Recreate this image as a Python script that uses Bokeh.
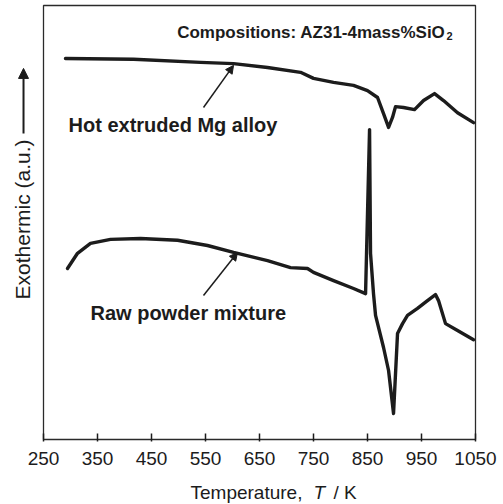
import numpy as np
from bokeh.plotting import figure
from bokeh.layouts import column
from bokeh.models import Range1d, Label, Arrow, NormalHead, FixedTicker
from bokeh.embed import file_html
from bokeh.resources import INLINE

# ---- data ----
temp_ticks = [250, 350, 450, 550, 650, 750, 850, 950, 1050]
signal_limits = [0, 100]

hot_T = [290.7, 416.7, 540.8, 601.9, 664.8, 726.0, 750.0, 787.1, 824.1, 850.0,
         868.6, 879.7, 889.0, 896.3, 901.9, 916.7, 937.1, 953.8, 974.1, 990.8,
         1016.7, 1046.4]
hot_signal = [87.8, 87.6, 86.9, 86.6, 85.7, 84.6, 83.2, 82.3, 81.6, 80.4,
              78.8, 75.1, 71.9, 74.2, 76.7, 76.5, 76.0, 78.1, 79.7, 78.1,
              75.3, 73.0]

raw_T = [294.4, 313.0, 337.0, 374.1, 429.6, 498.2, 553.7, 601.9, 664.8, 707.4,
         738.9, 750.0, 787.1, 824.1, 846.4, 853.8, 855.6, 861.1, 864.9, 879.7,
         889.0, 898.2, 905.6, 914.9, 924.1, 942.6, 961.1, 975.9, 981.5, 994.5,
         1016.7, 1046.4]
raw_signal = [39.4, 42.9, 45.2, 46.1, 46.3, 45.9, 44.7, 43.1, 41.2, 39.6,
              39.4, 38.5, 36.6, 34.8, 33.6, 71.4, 42.9, 33.6, 28.6, 21.2,
              15.9, 6.0, 24.4, 26.7, 28.6, 30.2, 32.0, 33.4, 32.0, 26.7,
              25.1, 23.0]

INK = "#1c1c1c"
FONT = "Liberation Sans"

# x range extends beyond the plotted box so that the side texts live inside the frame
x_rng = Range1d(170.37, 1101.85)

p = figure(width=503, height=480, x_range=x_rng, y_range=Range1d(-0.46, 101.15),
           output_backend="svg", toolbar_location=None,
           min_border_left=0, min_border_right=0, min_border_top=0, min_border_bottom=39)
p.grid.visible = False
p.yaxis.visible = False
p.outline_line_color = None
p.background_fill_color = "white"
p.border_fill_color = "white"

xa = p.xaxis[0]
xa.ticker = FixedTicker(ticks=temp_ticks)
xa.minor_tick_line_color = None
xa.major_tick_in = 8
xa.major_tick_out = 0
xa.major_tick_line_color = INK
xa.major_tick_line_width = 1.5
xa.axis_line_color = None
xa.major_label_text_font = FONT
xa.major_label_text_font_size = "19px"
xa.major_label_text_color = INK
xa.major_label_standoff = 10

# plot box
p.quad(left=temp_ticks[0], right=temp_ticks[-1], bottom=signal_limits[0], top=signal_limits[1],
       fill_color=None, line_color="#2a2a2a", line_width=1.3)

p.line(hot_T, hot_signal, line_color=INK, line_width=3.4, line_join="round", line_cap="round")
p.line(raw_T, raw_signal, line_color=INK, line_width=3.4, line_join="round", line_cap="round")

# composition text
p.add_layout(Label(x=994.4, y=93.78, text="Compositions: AZ31-4mass%SiO", text_align="right",
                   text_baseline="alphabetic", text_font=FONT, text_font_style="bold",
                   text_font_size="17px", text_color=INK))
p.add_layout(Label(x=996.3, y=93.0, text="2", text_align="left",
                   text_baseline="alphabetic", text_font=FONT, text_font_style="bold",
                   text_font_size="11px", text_color=INK))

# curve labels
p.add_layout(Label(x=296.3, y=72.35, text="Hot extruded Mg alloy", text_align="left",
                   text_baseline="alphabetic", text_font=FONT, text_font_style="bold",
                   text_font_size="20px", text_color=INK))
p.add_layout(Label(x=337.0, y=29.26, text="Raw powder mixture", text_align="left",
                   text_baseline="alphabetic", text_font=FONT, text_font_style="bold",
                   text_font_size="20px", text_color=INK))

p.add_layout(Arrow(x_start=546.3, y_start=76.5, x_end=601.9, y_end=86.2,
                   line_color=INK, line_width=1.5,
                   end=NormalHead(size=8, fill_color=INK, line_color=INK)))
p.add_layout(Arrow(x_start=546.3, y_start=33.2, x_end=609.3, y_end=43.1,
                   line_color=INK, line_width=1.5,
                   end=NormalHead(size=8, fill_color=INK, line_color=INK)))

# y axis label with arrow
p.add_layout(Label(x=211.1, y=50.7, text="Exothermic (a.u.)", angle=np.pi / 2,
                   text_align="center", text_baseline="alphabetic", text_font=FONT,
                   text_font_size="21px", text_color=INK))
p.add_layout(Arrow(x_start=213.0, y_start=70.5, x_end=213.0, y_end=85.5,
                   line_color=INK, line_width=2,
                   end=NormalHead(size=10, fill_color=INK, line_color=INK)))

# x axis title strip
s = figure(width=503, height=24, x_range=x_rng, y_range=Range1d(0, 24),
           output_backend="svg", toolbar_location=None,
           x_axis_location=None, y_axis_location=None,
           min_border_left=0, min_border_right=0, min_border_top=0, min_border_bottom=0)
s.grid.visible = False
s.outline_line_color = None
s.background_fill_color = "white"
s.border_fill_color = "white"
s.add_layout(Label(x=522.2, y=12, text="Temperature,", text_align="left",
                   text_baseline="alphabetic", text_font=FONT,
                   text_font_size="19px", text_color=INK))
s.add_layout(Label(x=750.0, y=12, text="T", text_align="left",
                   text_baseline="alphabetic", text_font=FONT, text_font_style="italic",
                   text_font_size="19px", text_color=INK))
s.add_layout(Label(x=787.0, y=12, text="/ K", text_align="left",
                   text_baseline="alphabetic", text_font=FONT,
                   text_font_size="19px", text_color=INK))

layout = column(p, s, spacing=0)
open("out.html", "w").write(file_html(layout, INLINE))
